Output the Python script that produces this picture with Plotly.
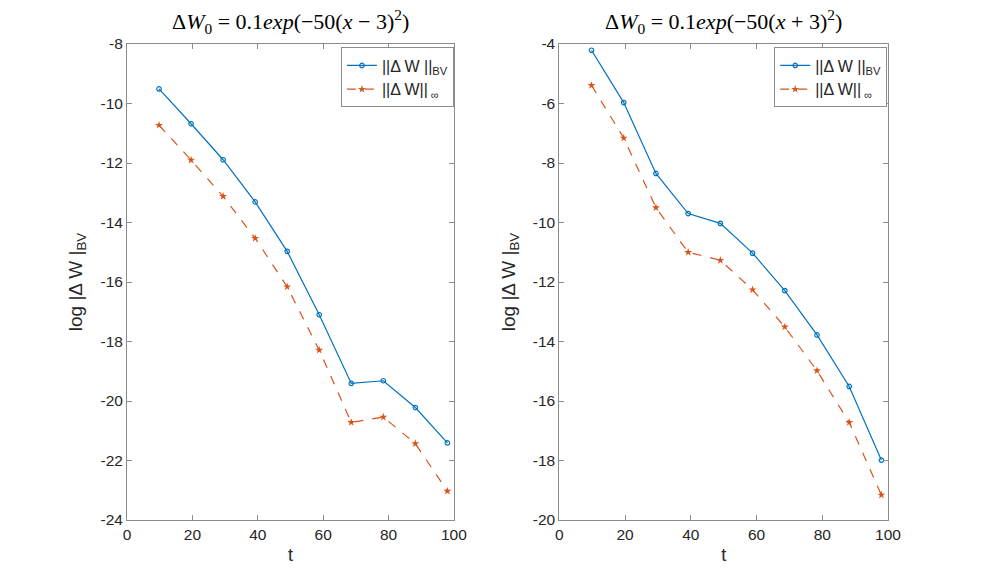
import plotly.graph_objects as go

t = [9.8, 19.6, 29.4, 39.2, 49.0, 58.8, 68.6, 78.4, 88.2, 98.0]

left_bv = [-9.51, -10.68, -11.89, -13.31, -14.97, -17.10, -19.41, -19.32, -20.22, -21.41]
left_inf = [-10.73, -11.90, -13.12, -14.53, -16.16, -18.29, -20.72, -20.54, -21.43, -23.03]

right_bv = [-4.21, -5.97, -8.35, -9.70, -10.03, -11.03, -12.29, -13.78, -15.51, -17.99]
right_inf = [-5.39, -7.16, -9.50, -11.00, -11.27, -12.26, -13.51, -14.98, -16.72, -19.16]

x_ticks = [0, 20, 40, 60, 80, 100]
left_y_ticks = [-24, -22, -20, -18, -16, -14, -12, -10, -8]
right_y_ticks = [-20, -18, -16, -14, -12, -10, -8, -6, -4]

title_left = "Δ<i>W</i><sub>0</sub> = 0.1<i>exp</i>(−50(<i>x</i> − 3)<sup>2</sup>)"
title_right = "Δ<i>W</i><sub>0</sub> = 0.1<i>exp</i>(−50(<i>x</i> + 3)<sup>2</sup>)"
name_bv = "||Δ W ||<sub>BV</sub>"
name_inf = "||Δ W||<sub> ∞</sub>"
ylabel = "log |Δ W |<sub>BV</sub>"

BLUE = "#0072BD"
ORANGE = "#D95319"

W, H = 981, 585
L, R, T, B = 127.3, W - 887.8, 43.5, H - 520.3
PW = W - L - R

fig = go.Figure()

def add_pair(xa, ya, bv, inf, legend):
    fig.add_trace(go.Scatter(x=t, y=bv, mode="lines+markers", name=name_bv,
                             line=dict(color=BLUE, width=1.2),
                             marker=dict(symbol="circle-open", size=4.5, color=BLUE, line=dict(width=1.2)),
                             xaxis=xa, yaxis=ya, legend=legend))
    fig.add_trace(go.Scatter(x=t, y=inf, mode="lines+markers", name=name_inf,
                             line=dict(color=ORANGE, width=1.2, dash="dash"),
                             marker=dict(symbol="star", size=6, color=ORANGE),
                             xaxis=xa, yaxis=ya, legend=legend))

add_pair("x", "y", left_bv, left_inf, "legend")
add_pair("x2", "y2", right_bv, right_inf, "legend2")

LINEC = "#8c8c8c"
TXTC = "#262626"
FONT = "Liberation Sans, Arial"
axis_common = dict(showline=True, linecolor=LINEC, linewidth=1, mirror="ticks",
                   ticks="inside", ticklen=5, tickcolor=LINEC, showgrid=False, zeroline=False,
                   automargin=False,
                   tickfont=dict(family=FONT, size=15.5, color=TXTC))

xl_dom = [0, (454 - L) / PW]
xr_dom = [(559.3 - L) / PW, 1]

def px_x(p):
    return (p - L) / PW

def px_y(p):
    return 1 - (p - T) / (H - T - B)

xtitle = dict(text="t", font=dict(family=FONT, size=18, color=TXTC), standoff=6)
ytitle = dict(text=ylabel, font=dict(family=FONT, size=19, color=TXTC), standoff=12)

fig.update_layout(
    width=W, height=H,
    margin=dict(l=L, r=R, t=T, b=B, autoexpand=False),
    paper_bgcolor="white", plot_bgcolor="white",
    showlegend=True,
    xaxis=dict(domain=xl_dom, range=[0, 100], tickvals=x_ticks,
               ticktext=[str(v) for v in x_ticks], title=xtitle, **axis_common),
    yaxis=dict(domain=[0, 1], range=[-24, -8], tickvals=left_y_ticks,
               ticktext=[str(v) for v in left_y_ticks], title=ytitle, **axis_common),
    xaxis2=dict(domain=xr_dom, range=[0, 100], tickvals=x_ticks,
                ticktext=[str(v) for v in x_ticks], anchor="y2", title=xtitle, **axis_common),
    yaxis2=dict(domain=[0, 1], range=[-20, -4], tickvals=right_y_ticks,
                ticktext=[str(v) for v in right_y_ticks], anchor="x2", title=ytitle, **axis_common),
    legend=dict(x=px_x(454), y=px_y(47), xanchor="right", yanchor="top",
                bordercolor=LINEC, borderwidth=1, bgcolor="white",
                font=dict(family=FONT, size=16, color=TXTC),
                itemwidth=30, tracegroupgap=0),
    legend2=dict(x=px_x(887), y=px_y(47), xanchor="right", yanchor="top",
                 bordercolor=LINEC, borderwidth=1, bgcolor="white",
                 font=dict(family=FONT, size=16, color=TXTC),
                 itemwidth=30, tracegroupgap=0),
    annotations=[
        dict(text=title_left, x=px_x((127.3 + 454) / 2), y=px_y(21), xref="paper", yref="paper",
             showarrow=False, xanchor="center", yanchor="middle",
             font=dict(family="Liberation Serif, DejaVu Serif", size=22, color="black")),
        dict(text=title_right, x=px_x((559.3 + 887.8) / 2), y=px_y(21), xref="paper", yref="paper",
             showarrow=False, xanchor="center", yanchor="middle",
             font=dict(family="Liberation Serif, DejaVu Serif", size=22, color="black")),
    ],
)

fig.write_html("out.html", config={"displayModeBar": False},
               post_script="document.body.style.margin='0px';document.body.style.overflow='hidden';")
